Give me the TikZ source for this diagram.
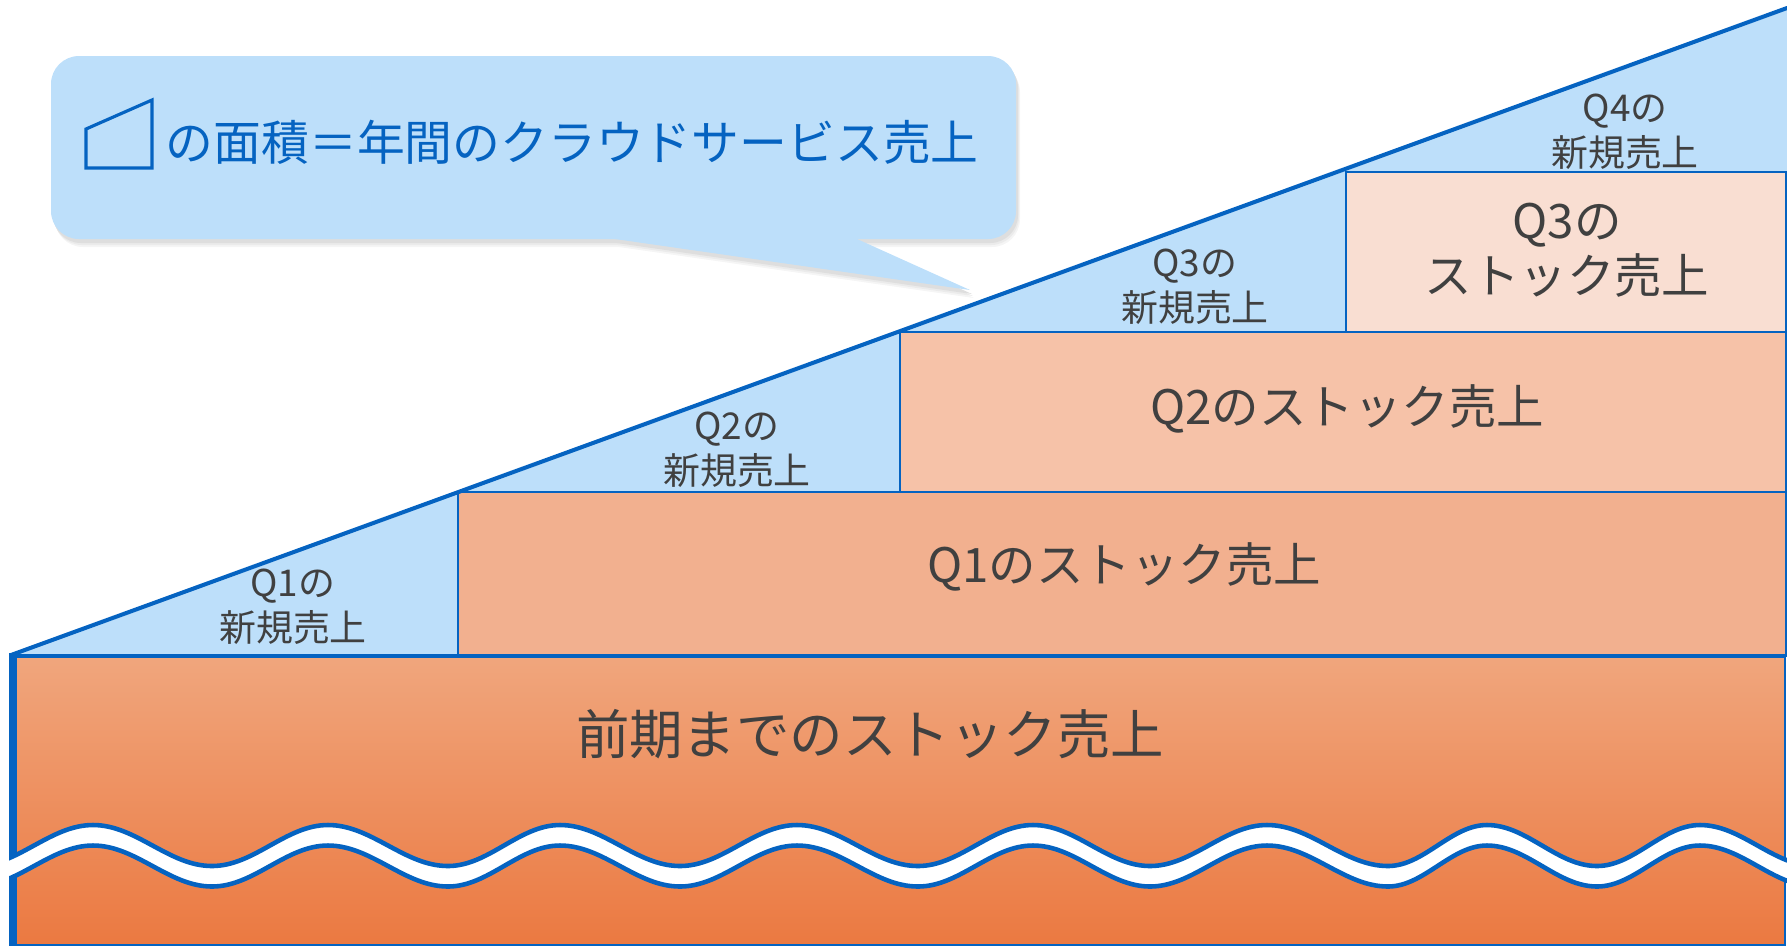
\documentclass[tikz,border=0pt]{standalone}
\usepackage{fontspec}
\newfontfamily\jpfont{Noto Sans CJK JP}
\usepackage{tikz}

\definecolor{lineblue}{HTML}{0563C1}
\definecolor{newblue}{HTML}{BDDFFA}
\definecolor{stockone}{HTML}{F2B08F}
\definecolor{stocktwo}{HTML}{F6C2A8}
\definecolor{stockthree}{HTML}{F9DED2}
\definecolor{oldtop}{HTML}{F0A67D}
\definecolor{oldbottom}{HTML}{EB7941}
\definecolor{labelgray}{HTML}{404040}

\tikzset{
	newlabel/.style={text=labelgray, align=center, inner sep=0pt,
		font=\jpfont\fontsize{10.5}{12.8}\selectfont},
	stocklabel/.style={text=labelgray, align=center, inner sep=0pt,
		font=\jpfont\fontsize{13.5}{15.6}\selectfont},
	stockbox/.style={draw=lineblue, line width=0.45pt},
	waveline/.style={lineblue, line width=1.3pt},
}

% one wave, crests at -20.5, troughs at +20.5
\newcommand{\wave}{(-25,20.5) cos (34,0) sin (93,-20.5) cos (152.5,0) sin (212,20.5)
	cos (270,0) sin (328,-20.5) cos (388,0) sin (448,20.5) cos (504,0) sin (560,-20.5)
	cos (620,0) sin (680,20.5) cos (738.5,0) sin (797,-20.5) cos (857.5,0) sin (918,20.5)
	cos (975.5,0) sin (1033,-20.5) cos (1091.5,0) sin (1150,20.5) cos (1208.5,0) sin (1267,-20.5)
	cos (1327.5,0) sin (1388,20.5) cos (1437.5,0) sin (1487,-20.5) cos (1542,0) sin (1597,20.5)
	cos (1648.5,0) sin (1700,-20.5) cos (1757.5,0) sin (1815,20.5)}

\begin{document}
\begin{tikzpicture}[x=0.01cm, y=-0.01cm]
	\useasboundingbox (0,0) rectangle (1787,947);
	
	% new sales wedge and stock boxes
	\fill[newblue] (12,655) -- (1787,8) -- (1787,656) -- cycle;
	\draw[stockbox, fill=stockone] (458,492) rectangle (1786,656);
	\draw[stockbox, fill=stocktwo] (900,332) rectangle (1786,492);
	\draw[stockbox, fill=stockthree] (1346,172) rectangle (1786,332);
	
	% stock of the previous term
	\shade[top color=oldtop, bottom color=oldbottom] (13,656) rectangle (1785,945);
	\draw[lineblue, line width=0.6pt] (1785,656) -- (1785,945) -- (13,945);
	\draw[lineblue, line width=2pt] (13,653) -- (13,946);
	\draw[lineblue, line width=1.1pt] (13,656) -- (1786,656);
	
	\begin{scope}
		\clip (9,700) rectangle (1787,947);
		\draw[white, line width=5.8pt, shift={(0,855.75)}] \wave;
		\draw[waveline, shift={(0,845.5)}] \wave;
		\draw[waveline, shift={(0,866)}] \wave;
	\end{scope}
	
	\draw[lineblue, line width=1.15pt, line cap=round] (11,655) -- (1787,8);
	
	% callout
	\foreach \d/\c in {8/4, 6/8, 4/13}{
		\fill[black!\c, shift={(\d/2,\d)}, rounded corners=0.28cm] (51,56) rectangle (1016,239);
		\fill[black!\c, shift={(\d/2,\d)}] (615,232) -- (615,239) -- (970,290) -- (857,239) -- (857,232) -- cycle;
	}
	\fill[newblue, rounded corners=0.28cm] (51,56) rectangle (1016,239);
	\fill[newblue] (615,232) -- (615,239) -- (970,290) -- (857,239) -- (857,232) -- cycle;
	\draw[lineblue, line width=0.9pt] (152,100) -- (152,168) -- (86,168) -- (86,129) -- cycle;
	\node[anchor=west, text=lineblue, inner sep=0pt, font=\jpfont\fontsize{13.6}{16}\selectfont]
		(title) at (165,142) {の面積＝年間のクラウドサービス売上};
	
	\node[newlabel] (q1new) at (293,607) {Q1の\\新規売上};
	\node[newlabel] (q2new) at (737,450) {Q2の\\新規売上};
	\node[newlabel] (q3new) at (1195,287) {Q3の\\新規売上};
	\node[newlabel] (q4new) at (1625,132) {Q4の\\新規売上};
	
	\node[stocklabel] (q3stock) at (1567,250) {Q3の\\ストック売上};
	\node[stocklabel] (q2stock) at (1347,409) {Q2のストック売上};
	\node[stocklabel] (q1stock) at (1124,567) {Q1のストック売上};
	\node[stocklabel, font=\jpfont\fontsize{15.2}{18}\selectfont] (oldstock) at (870,734) {前期までのストック売上};
\end{tikzpicture}
\end{document}
